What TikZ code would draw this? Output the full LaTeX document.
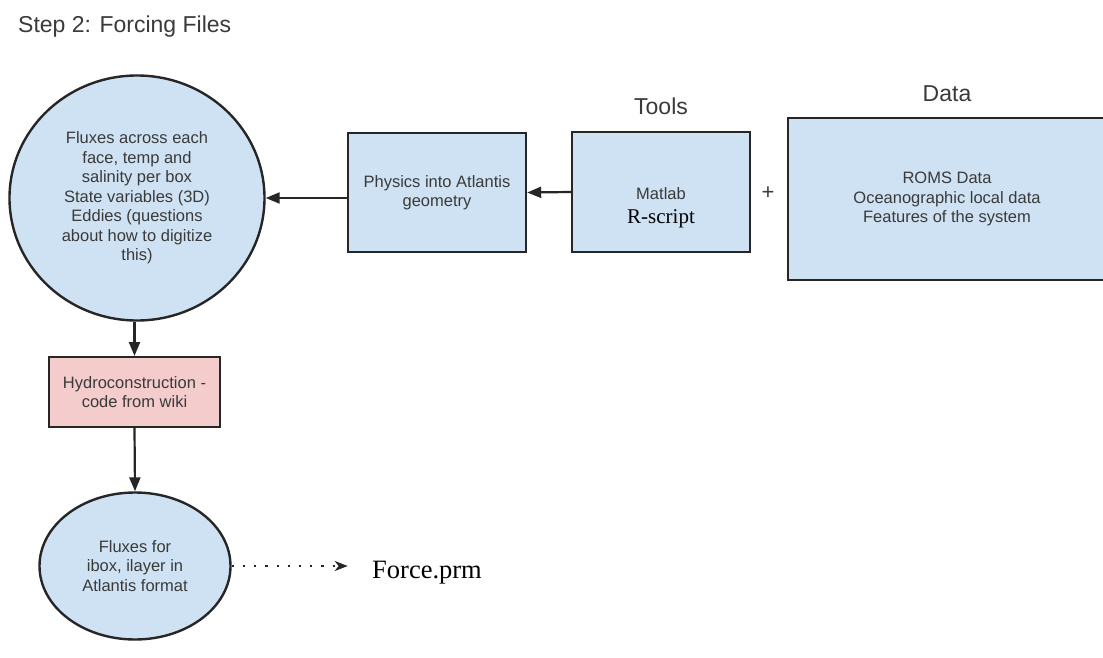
\documentclass[tikz,border=0pt]{standalone}
\usepackage{fontspec}
\setmainfont{Liberation Sans}
\newfontfamily\serifface{Liberation Serif}
\usetikzlibrary{shapes.geometric,arrows.meta}
\definecolor{boxblue}{HTML}{CFE2F3}
\definecolor{boxpink}{HTML}{F4CCCC}
\definecolor{edge}{HTML}{262626}
\definecolor{txt}{HTML}{3A3A3A}
\tikzset{
  boxtext/.style={font=\fontsize{16.5}{19.5}\selectfont, text=txt, align=center},
  bluebox/.style={draw=edge, line width=2.4pt, fill=boxblue, rectangle, inner sep=0pt, boxtext},
  pinkbox/.style={draw=edge, line width=2pt, fill=boxpink, rectangle, inner sep=0pt, boxtext},
  blueoval/.style={draw=edge, line width=2.4pt, fill=boxblue, ellipse, inner sep=0pt, boxtext},
  flow/.style={draw=edge, line width=2.2pt, -{Triangle[length=14pt,width=11pt]}},
  dots/.style={draw=edge, line width=2.2pt, dash pattern=on 2.2pt off 9pt, -{Stealth[length=13pt,width=10pt,inset=4pt]}},
  heading/.style={font=\fontsize{23}{27}\selectfont, text=txt},
}
\begin{document}
\begin{tikzpicture}[x=1pt,y=-1pt]
\useasboundingbox (0,0) rectangle (1103,658);
\fill[white] (0,0) rectangle (1103,658);

% title
\node[heading, anchor=base west, inner sep=0pt] (title) at (18,33) {Step 2: Forcing Files};

% column labels
\node[heading, anchor=base, inner sep=0pt] (tools) at (661,115) {Tools};
\node[heading, anchor=base, inner sep=0pt] (data) at (947,102) {Data};

% top row
\node[blueoval, minimum width=255pt, minimum height=245pt] (fluxes) at (137,198)
  {Fluxes across each\\face, temp and\\salinity per box\\State variables (3D)\\Eddies (questions\\about how to digitize\\this)};
\node[bluebox, minimum width=178pt, minimum height=119pt] (physics) at (437,192.5)
  {Physics into Atlantis\\geometry};
\node[bluebox, minimum width=178pt, minimum height=120pt] (matlab) at (661,192) {};
\node[boxtext, anchor=base, inner sep=0pt] (matlabname) at (661,199) {Matlab};
\node[font=\serifface\fontsize{21}{23}\selectfont, anchor=base, inner sep=0pt] (rscript) at (661,223) {R-script};
\node[font=\fontsize{22}{24}\selectfont, text=txt, inner sep=0pt] (plus) at (768,193) {+};
\node[bluebox, minimum width=318pt, minimum height=162pt] (roms) at (947,199)
  {ROMS Data\\Oceanographic local data\\Features of the system};

% left column
\node[pinkbox, minimum width=171pt, minimum height=70pt] (hydro) at (134.5,392)
  {Hydroconstruction -\\code from wiki};
\node[blueoval, minimum width=191pt, minimum height=147pt] (atl) at (135,566)
  {Fluxes for\\ibox, ilayer in\\Atlantis format};
\node[font=\serifface\fontsize{26.5}{30}\selectfont, anchor=base west, inner sep=0pt] (force) at (372,578) {Force.prm};

% connectors
\draw[flow] (matlab.west) -- (physics.east);
\draw[flow] (physics.west |- fluxes.east) -- (fluxes.east);
\draw[flow] (fluxes.south -| hydro.north) -- (hydro.north);
\draw[flow] (hydro.south) -- (atl.north);
\draw[dots] (atl.east) -- ++(116,0) coordinate (forcetip);
\end{tikzpicture}
\end{document}
